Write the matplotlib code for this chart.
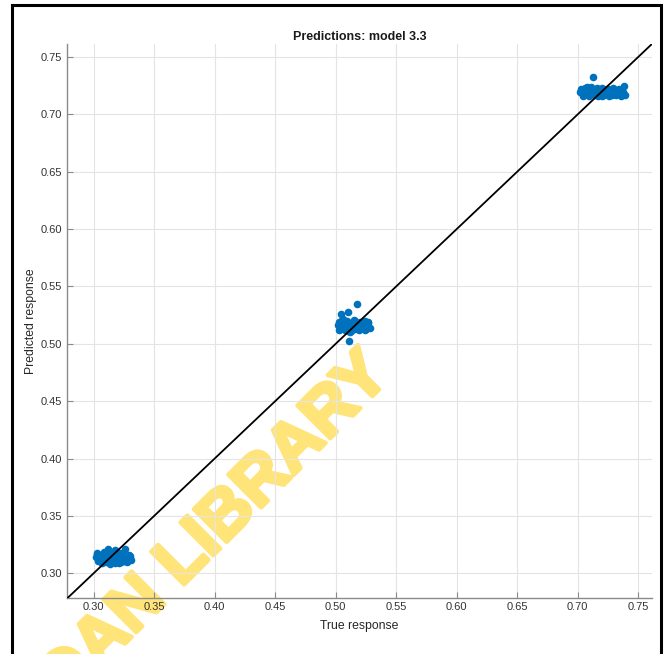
import matplotlib
matplotlib.use("Agg")
import matplotlib.pyplot as plt
import matplotlib.patheffects as pe
from matplotlib.patches import Rectangle

plt.rcParams['font.family'] = ['Liberation Sans', 'DejaVu Sans']

# Group near 0.31
true_a = [0.302, 0.304, 0.303, 0.305, 0.307, 0.306, 0.308, 0.309, 0.310, 0.311,
          0.312, 0.313, 0.314, 0.315, 0.316, 0.317, 0.318, 0.319, 0.320, 0.321,
          0.322, 0.323, 0.324, 0.325, 0.326, 0.327, 0.328, 0.329, 0.330, 0.331,
          0.303, 0.306, 0.309, 0.312, 0.315, 0.318, 0.321, 0.324, 0.327, 0.330,
          0.305, 0.311, 0.317, 0.323, 0.329]
pred_a = [0.314, 0.311, 0.317, 0.313, 0.309, 0.316, 0.312, 0.319, 0.310, 0.315,
          0.321, 0.313, 0.308, 0.317, 0.311, 0.314, 0.320, 0.312, 0.316, 0.309,
          0.318, 0.313, 0.315, 0.311, 0.321, 0.314, 0.310, 0.316, 0.313, 0.312,
          0.318, 0.310, 0.314, 0.316, 0.312, 0.309, 0.315, 0.318, 0.311, 0.315,
          0.312, 0.317, 0.315, 0.310, 0.314]

# Group near 0.515
true_b = [0.502, 0.503, 0.504, 0.505, 0.506, 0.507, 0.508, 0.509, 0.510, 0.511,
          0.512, 0.513, 0.514, 0.515, 0.516, 0.517, 0.518, 0.519, 0.520, 0.521,
          0.522, 0.523, 0.524, 0.525, 0.526, 0.527, 0.528,
          0.503, 0.506, 0.509, 0.512, 0.515, 0.518, 0.521, 0.524, 0.527,
          0.505, 0.510, 0.516, 0.520, 0.525,
          0.5048, 0.5098, 0.518, 0.511]
pred_b = [0.516, 0.519, 0.513, 0.521, 0.515, 0.518, 0.512, 0.520, 0.516, 0.514,
          0.517, 0.511, 0.519, 0.515, 0.513, 0.518, 0.516, 0.512, 0.519, 0.514,
          0.517, 0.515, 0.520, 0.513, 0.516, 0.518, 0.514,
          0.512, 0.522, 0.515, 0.510, 0.521, 0.514, 0.517, 0.512, 0.519,
          0.517, 0.511, 0.520, 0.513, 0.516,
          0.5264, 0.528, 0.535, 0.5028]

# Group near 0.72
true_c = [0.702, 0.703, 0.704, 0.705, 0.706, 0.707, 0.708, 0.709, 0.710, 0.711,
          0.712, 0.713, 0.714, 0.715, 0.716, 0.717, 0.718, 0.719, 0.720, 0.721,
          0.722, 0.723, 0.724, 0.725, 0.726, 0.727, 0.728, 0.729, 0.730, 0.731,
          0.732, 0.733, 0.734, 0.735, 0.736, 0.737, 0.738, 0.739,
          0.704, 0.708, 0.712, 0.716, 0.720, 0.724, 0.728, 0.732, 0.736,
          0.7128]
pred_c = [0.719, 0.722, 0.717, 0.720, 0.723, 0.718, 0.721, 0.716, 0.720, 0.724,
          0.718, 0.721, 0.717, 0.722, 0.719, 0.716, 0.721, 0.718, 0.723, 0.720,
          0.717, 0.721, 0.719, 0.722, 0.716, 0.720, 0.718, 0.723, 0.719, 0.721,
          0.717, 0.720, 0.722, 0.718, 0.721, 0.719, 0.725, 0.717,
          0.716, 0.724, 0.719, 0.723, 0.716, 0.722, 0.717, 0.721, 0.716,
          0.7327]

true_resp = true_a + true_b + true_c
pred_resp = pred_a + pred_b + pred_c

axis_range = [0.2783, 0.7613]
x_ticks = [0.30, 0.35, 0.40, 0.45, 0.50, 0.55, 0.60, 0.65, 0.70, 0.75]
y_ticks = [0.30, 0.35, 0.40, 0.45, 0.50, 0.55, 0.60, 0.65, 0.70, 0.75]

fig = plt.figure(figsize=(6.68, 6.54), dpi=100)
ax = fig.add_axes([0.1007, 0.0852, 0.8753, 0.8476])
ax.patch.set_alpha(0)

ax.scatter(true_resp, pred_resp, s=30, color='#0072BD', linewidths=0, zorder=3)
ax.plot(axis_range, axis_range, color='black', lw=1.3, zorder=4)

ax.set_xlim(axis_range)
ax.set_ylim(axis_range)
ax.set_xticks(x_ticks)
ax.set_yticks(y_ticks)
ax.set_xticklabels([f"{v:.2f}" for v in x_ticks])
ax.set_yticklabels([f"{v:.2f}" for v in y_ticks])

ax.grid(True, color='#e4e4e4', lw=0.8, zorder=0)
ax.set_axisbelow(True)
for side in ('top', 'right'):
    ax.spines[side].set_visible(False)
for side in ('left', 'bottom'):
    ax.spines[side].set_color('#8a8a8a')
    ax.spines[side].set_linewidth(1.0)
ax.tick_params(direction='in', length=4, width=0.8, color='#8a8a8a',
               labelcolor='#333333', labelsize=8)
ax.tick_params(axis='x', pad=3)
ax.tick_params(axis='y', pad=4)

ax.set_title('Predictions: model 3.3', fontsize=9, fontweight='bold',
             color='#1a1a1a', pad=2.5)
ax.set_xlabel('True response', fontsize=8.8, color='#262626')
ax.set_ylabel('Predicted response', fontsize=8.8, color='#262626')
ax.xaxis.set_label_coords(0.5, -0.039)
ax.yaxis.set_label_coords(-0.051, 0.5)

# Library watermark across the lower left
wm_color = '#FFE47A'
fig.text(0.341, 0.173, 'DAN LIBRARY', fontsize=48.7, fontweight='bold',
         color=wm_color, rotation=45, rotation_mode='anchor',
         ha='center', va='baseline', zorder=-1,
         path_effects=[pe.withStroke(linewidth=3, foreground=wm_color)])

# Page frame
fig.add_artist(Rectangle((0.018, -0.05), 0.9715, 1.0424, transform=fig.transFigure,
                         fill=False, edgecolor='black', lw=2.2, zorder=10))

fig.savefig('out.png', dpi=100)
